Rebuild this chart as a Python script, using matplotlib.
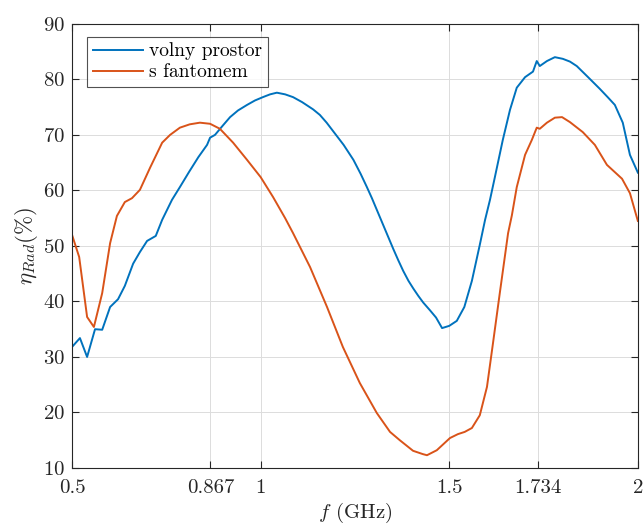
import matplotlib
matplotlib.use("Agg")
import matplotlib.pyplot as plt

# Radiation efficiency of the antenna: free space vs. with phantom
f_free = [0.500, 0.521, 0.540, 0.561, 0.580, 0.601, 0.622, 0.640, 0.662, 0.680,
          0.699, 0.722, 0.739, 0.765, 0.786, 0.810, 0.835, 0.858, 0.866, 0.879,
          0.900, 0.919, 0.940, 0.964, 0.985, 1.006, 1.025, 1.043, 1.065, 1.086,
          1.110, 1.139, 1.157, 1.175, 1.193, 1.220, 1.246, 1.265, 1.281, 1.295,
          1.308, 1.321, 1.334, 1.352, 1.365, 1.378, 1.392, 1.405, 1.418, 1.431,
          1.449, 1.465, 1.481, 1.500, 1.520,
          1.540, 1.560, 1.581, 1.595, 1.608, 1.621, 1.642, 1.661, 1.679, 1.701,
          1.722, 1.732, 1.740, 1.759, 1.780, 1.801, 1.820, 1.838, 1.868, 1.899,
          1.920, 1.939, 1.960, 1.979, 2.000]
eta_free = [31.8, 33.4, 30.0, 35.0, 34.9, 39.0, 40.4, 42.8, 46.8, 48.9,
            50.9, 51.8, 54.7, 58.3, 60.6, 63.3, 66.0, 68.2, 69.5, 70.0,
            71.7, 73.2, 74.4, 75.4, 76.2, 76.8, 77.3, 77.6, 77.3, 76.8,
            75.9, 74.6, 73.6, 72.2, 70.6, 68.2, 65.5, 63.0, 60.7, 58.6,
            56.5, 54.4, 52.3, 49.4, 47.4, 45.5, 43.7, 42.3, 41.0, 39.8,
            38.4, 37.1, 35.2, 35.6, 36.5,
            39.0, 43.7, 50.2, 54.7, 58.3, 62.4, 69.1, 74.5, 78.5, 80.4,
            81.4, 83.3, 82.4, 83.3, 84.0, 83.7, 83.2, 82.4, 80.4, 78.3,
            76.8, 75.4, 72.2, 66.4, 63.2]

f_phantom = [0.500, 0.519, 0.540, 0.558, 0.580, 0.601, 0.619, 0.640, 0.659, 0.680,
             0.707, 0.739, 0.760, 0.786, 0.812, 0.839, 0.866, 0.892, 0.927, 0.964,
             1.000, 1.033, 1.065, 1.086, 1.131, 1.176, 1.218, 1.263, 1.308, 1.343,
             1.369, 1.404, 1.430, 1.441, 1.467, 1.502, 1.523, 1.541, 1.560, 1.581,
             1.600, 1.616, 1.634, 1.656, 1.666, 1.679, 1.701, 1.719, 1.732, 1.740,
             1.759, 1.780, 1.799, 1.820, 1.854, 1.886, 1.918, 1.958, 1.979, 2.000]
eta_phantom = [52.0, 48.0, 37.2, 35.4, 41.5, 50.5, 55.4, 57.9, 58.6, 60.1,
               64.1, 68.6, 70.0, 71.3, 71.9, 72.2, 72.0, 71.1, 68.6, 65.5,
               62.4, 58.8, 55.0, 52.3, 46.2, 39.0, 31.8, 25.3, 19.9, 16.5,
               15.0, 13.1, 12.5, 12.3, 13.2, 15.4, 16.1, 16.5, 17.2, 19.5,
               24.6, 32.5, 41.5, 52.3, 55.5, 60.6, 66.4, 69.1, 71.3, 71.1,
               72.2, 73.1, 73.2, 72.3, 70.5, 68.2, 64.6, 62.1, 59.5, 54.5]

labels = ["volny prostor", "s fantomem"]
xticks = [0.5, 0.867, 1, 1.5, 1.734, 2]
xticklabels = ["0.5", "0.867", "1", "1.5", "1.734", "2"]
yticks = [10, 20, 30, 40, 50, 60, 70, 80, 90]

plt.rcParams["font.family"] = ["cmr10", "DejaVu Serif"]
plt.rcParams["mathtext.fontset"] = "cm"
plt.rcParams["axes.formatter.use_mathtext"] = True

ink = "#262626"
fig = plt.figure(figsize=(6.43, 5.30), dpi=100)
ax = fig.add_axes([0.112, 0.117, 0.880, 0.838])

ax.plot(f_free, eta_free, color="#0072BD", lw=1.4, label=labels[0])
ax.plot(f_phantom, eta_phantom, color="#D95319", lw=1.4, label=labels[1])

ax.set_xlim(0.5, 2)
ax.set_ylim(10, 90)
ax.set_xticks(xticks)
ax.set_xticklabels(xticklabels)
ax.set_yticks(yticks)
ax.grid(True, color="#dcdcdc", lw=0.7)
ax.set_axisbelow(True)
ax.tick_params(direction="in", top=True, right=True, length=5, width=0.8,
               colors=ink, labelsize=15)
ax.tick_params(axis="x", pad=8)
ax.tick_params(axis="y", pad=5)
for s in ax.spines.values():
    s.set_color(ink)
    s.set_linewidth(0.8)

ax.set_xlabel(r"$f$ (GHz)", fontsize=15, color=ink, labelpad=3)
ax.set_ylabel(r"$\eta_{Rad}(\%)$", fontsize=16.5, color=ink, labelpad=2)

leg = ax.legend(loc="upper left", bbox_to_anchor=(0.0265, 0.971), borderaxespad=0,
                fontsize=14, frameon=True, fancybox=False, handlelength=2.6,
                handletextpad=0.3, borderpad=0.3, labelspacing=0.15)
leg.get_frame().set_edgecolor(ink)
leg.get_frame().set_linewidth(0.8)

fig.savefig("out.png", dpi=100)
